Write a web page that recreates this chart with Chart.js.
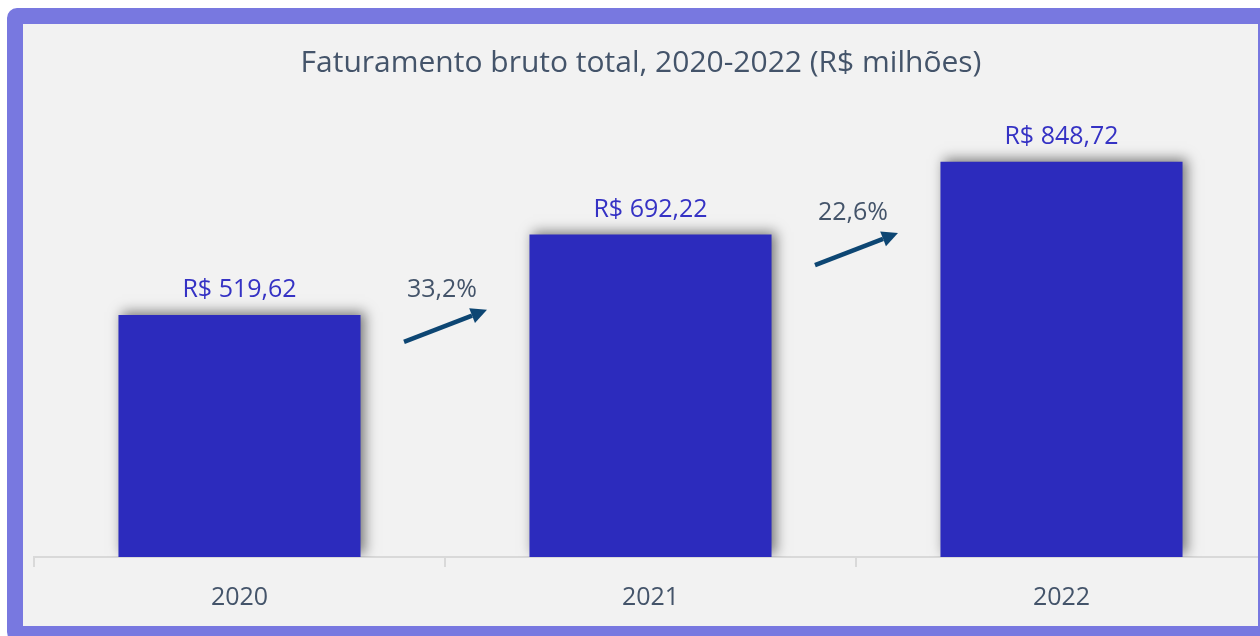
<!DOCTYPE html>
<html>
<head>
<meta charset="utf-8">
<script src="https://cdn.jsdelivr.net/npm/chart.js@4"></script>
<style>
  body { margin: 0; background: #fff; }
  #frame {
    position: absolute;
    left: 7px;
    top: 8px;
    width: 1235px;
    height: 602px;
    border: 16px solid #7878e0;
    border-radius: 10px;
    background: #f2f2f2;
    overflow: hidden;
  }
  #chart { display: block; }
</style>
</head>
<body>
<div id="frame">
  <canvas id="chart" width="1250" height="620"></canvas>
</div>
<script>
const FONT = '"Open Sans", "Noto Sans", sans-serif';

const years = ['2020', '2021', '2022'];
const revenue = [519.62, 692.22, 848.72];
const chartTitle = 'Faturamento bruto total, 2020-2022 (R$ milhões)';

const fmtMoney = v => 'R$ ' + v.toFixed(2).replace('.', ',');
const fmtPct = v => (v * 100).toFixed(1).replace('.', ',') + '%';

// Title drawn by hand so it centres on the visible panel
const titlePlugin = {
  id: 'panelTitle',
  afterDraw(chart) {
    const ctx = chart.ctx;
    ctx.save();
    ctx.font = '30px ' + FONT;
    ctx.fillStyle = '#44546a';
    ctx.textAlign = 'center';
    ctx.textBaseline = 'middle';
    ctx.fillText(chartTitle, 618, 39);
    ctx.restore();
  }
};

// Soft shadow behind the bars
const barShadow = {
  id: 'barShadow',
  beforeDatasetsDraw(chart) {
    const ctx = chart.ctx;
    ctx.save();
    ctx.shadowColor = 'rgba(0, 0, 0, 0.5)';
    ctx.shadowBlur = 12;
    ctx.shadowOffsetX = 4;
    ctx.shadowOffsetY = -3;
  },
  afterDatasetsDraw(chart) {
    chart.ctx.restore();
  }
};

// Value labels over the bars and growth arrows between them
const annotations = {
  id: 'annotations',
  afterDatasetsDraw(chart) {
    const ctx = chart.ctx;
    const bars = chart.getDatasetMeta(0).data;
    const y = chart.scales.y;
    ctx.save();
    ctx.font = '25px ' + FONT;
    ctx.fillStyle = '#3532c4';
    ctx.textAlign = 'center';
    ctx.textBaseline = 'alphabetic';
    bars.forEach((bar, i) => {
      ctx.fillText(fmtMoney(revenue[i]), bar.x, bar.y - 18);
    });

    for (let i = 0; i < bars.length - 1; i++) {
      const cx = (bars[i].x + bars[i + 1].x) / 2;
      const cy = y.getPixelForValue(revenue[i] * 0.955);
      const x0 = cx - 41, y0 = cy + 16;
      const x1 = cx + 42, y1 = cy - 16;
      const ang = Math.atan2(y1 - y0, x1 - x0);
      const head = 16, half = 8;
      const bx = x1 - head * Math.cos(ang), by = y1 - head * Math.sin(ang);

      ctx.strokeStyle = '#0d4673';
      ctx.fillStyle = '#0d4673';
      ctx.lineWidth = 4.5;
      ctx.beginPath();
      ctx.moveTo(x0, y0);
      ctx.lineTo(bx, by);
      ctx.stroke();
      ctx.beginPath();
      ctx.moveTo(x1, y1);
      ctx.lineTo(bx + half * Math.sin(ang), by - half * Math.cos(ang));
      ctx.lineTo(bx - half * Math.sin(ang), by + half * Math.cos(ang));
      ctx.closePath();
      ctx.fill();

      ctx.fillStyle = '#44546a';
      ctx.textBaseline = 'middle';
      ctx.fillText(fmtPct(revenue[i + 1] / revenue[i] - 1), cx - 3, cy - 36);
      ctx.textBaseline = 'alphabetic';
    }
    ctx.restore();
  }
};

new Chart(document.getElementById('chart'), {
  type: 'bar',
  data: {
    labels: years,
    datasets: [{
      data: revenue,
      backgroundColor: '#2c2bbd',
      borderWidth: 0,
      barPercentage: 1,
      categoryPercentage: 0.589
    }]
  },
  options: {
    responsive: false,
    animation: false,
    layout: {
      padding: { left: 11, right: 6, top: 84, bottom: 15 }
    },
    scales: {
      x: {
        grid: {
          display: true,
          drawOnChartArea: false,
          drawTicks: true,
          tickLength: 10,
          color: '#d9d9d9',
          lineWidth: 2
        },
        border: { display: true, color: '#d9d9d9', width: 2 },
        ticks: {
          padding: 16,
          color: '#44546a',
          font: { family: FONT, size: 25 }
        }
      },
      y: {
        display: false,
        min: 0,
        max: 964
      }
    },
    plugins: {
      legend: { display: false },
      title: { display: false },
      tooltip: { enabled: false }
    }
  },
  plugins: [barShadow, annotations, titlePlugin]
});
</script>
</body>
</html>
